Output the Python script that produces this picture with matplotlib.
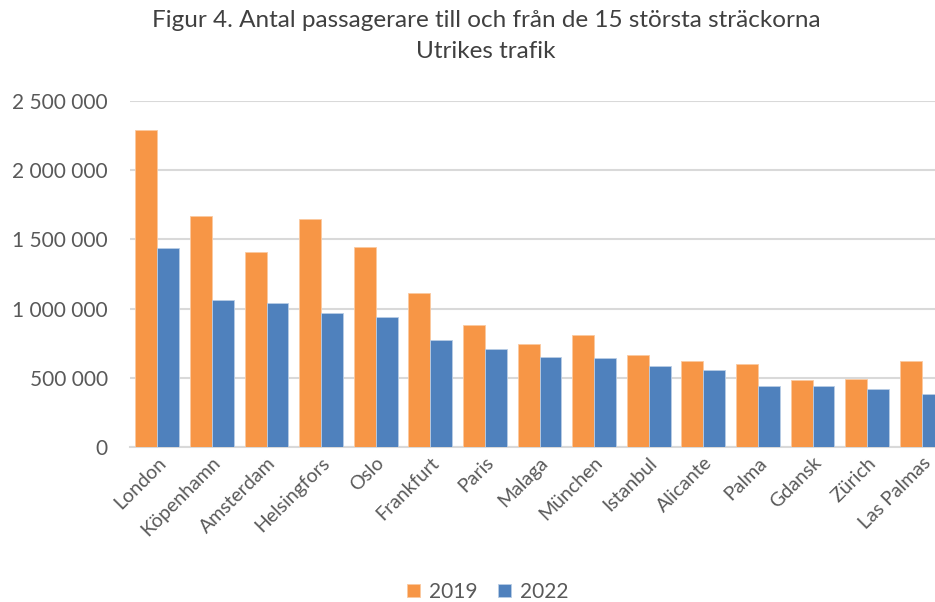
import matplotlib.pyplot as plt
import numpy as np
from matplotlib.ticker import FuncFormatter

# data
cities = ["London", "Köpenhamn", "Amsterdam", "Helsingfors", "Oslo", "Frankfurt",
          "Paris", "Malaga", "München", "Istanbul", "Alicante", "Palma",
          "Gdansk", "Zürich", "Las Palmas"]
pax_2019 = [2288000, 1671000, 1411000, 1647000, 1447000, 1110000,
            884000, 747000, 812000, 667000, 624000, 597000,
            482000, 491000, 619000]
pax_2022 = [1440000, 1060000, 1038000, 966000, 942000, 771000,
            710000, 650000, 641000, 583000, 554000, 443000,
            441000, 417000, 383000]

plt.rcParams['font.family'] = ['Lato', 'DejaVu Sans']

fig = plt.figure(figsize=(9.35, 6.02), dpi=100)
# plot area runs slightly past the right edge, like the cropped original
ax = fig.add_axes([130 / 935, 155 / 602, 819 / 935, 346 / 602])

x = np.arange(len(cities))
w = 0.4
ax.bar(x - w / 2, pax_2019, w, color="#F79646", edgecolor="#FBC9A0", linewidth=0.6, label="2019", zorder=3)
ax.bar(x + w / 2, pax_2022, w, color="#4F81BD", edgecolor="#B9CDE5", linewidth=0.6, label="2022", zorder=3)

ax.set_xlim(-0.5, len(cities) - 0.5)
ax.set_ylim(0, 2500000)
ax.set_yticks(np.arange(0, 2500001, 500000))
ax.yaxis.set_major_formatter(FuncFormatter(lambda v, p: f"{int(v):,}".replace(",", " ")))
ax.grid(axis="y", color="#D9D9D9", linewidth=1.5, zorder=0)
for s in ["top", "right", "left"]:
    ax.spines[s].set_visible(False)
ax.spines["bottom"].set_color("#D9D9D9")
ax.spines["bottom"].set_linewidth(1.5)
ax.tick_params(axis="both", length=0, colors="#595959")
ax.tick_params(axis="y", pad=16, labelsize=15)
ax.tick_params(axis="x", pad=5, labelsize=14)
ax.set_xticks(x)
ax.set_xticklabels(cities, rotation=45, ha="right", rotation_mode="anchor")

fig.text(0.52, 0.966, "Figur 4. Antal passagerare till och från de 15 största sträckorna",
         ha="center", va="center", fontsize=17.5, color="#404040")
fig.text(0.52, 0.915, "Utrikes trafik", ha="center", va="center", fontsize=17.5, color="#404040")

leg = fig.legend(loc="center", bbox_to_anchor=(0.522, 0.017), ncol=2, frameon=False,
                 fontsize=15, handlelength=0.6, handleheight=0.6, columnspacing=1.0,
                 handletextpad=0.45)
for t in leg.get_texts():
    t.set_color("#595959")

fig.savefig("out.png", dpi=100)
